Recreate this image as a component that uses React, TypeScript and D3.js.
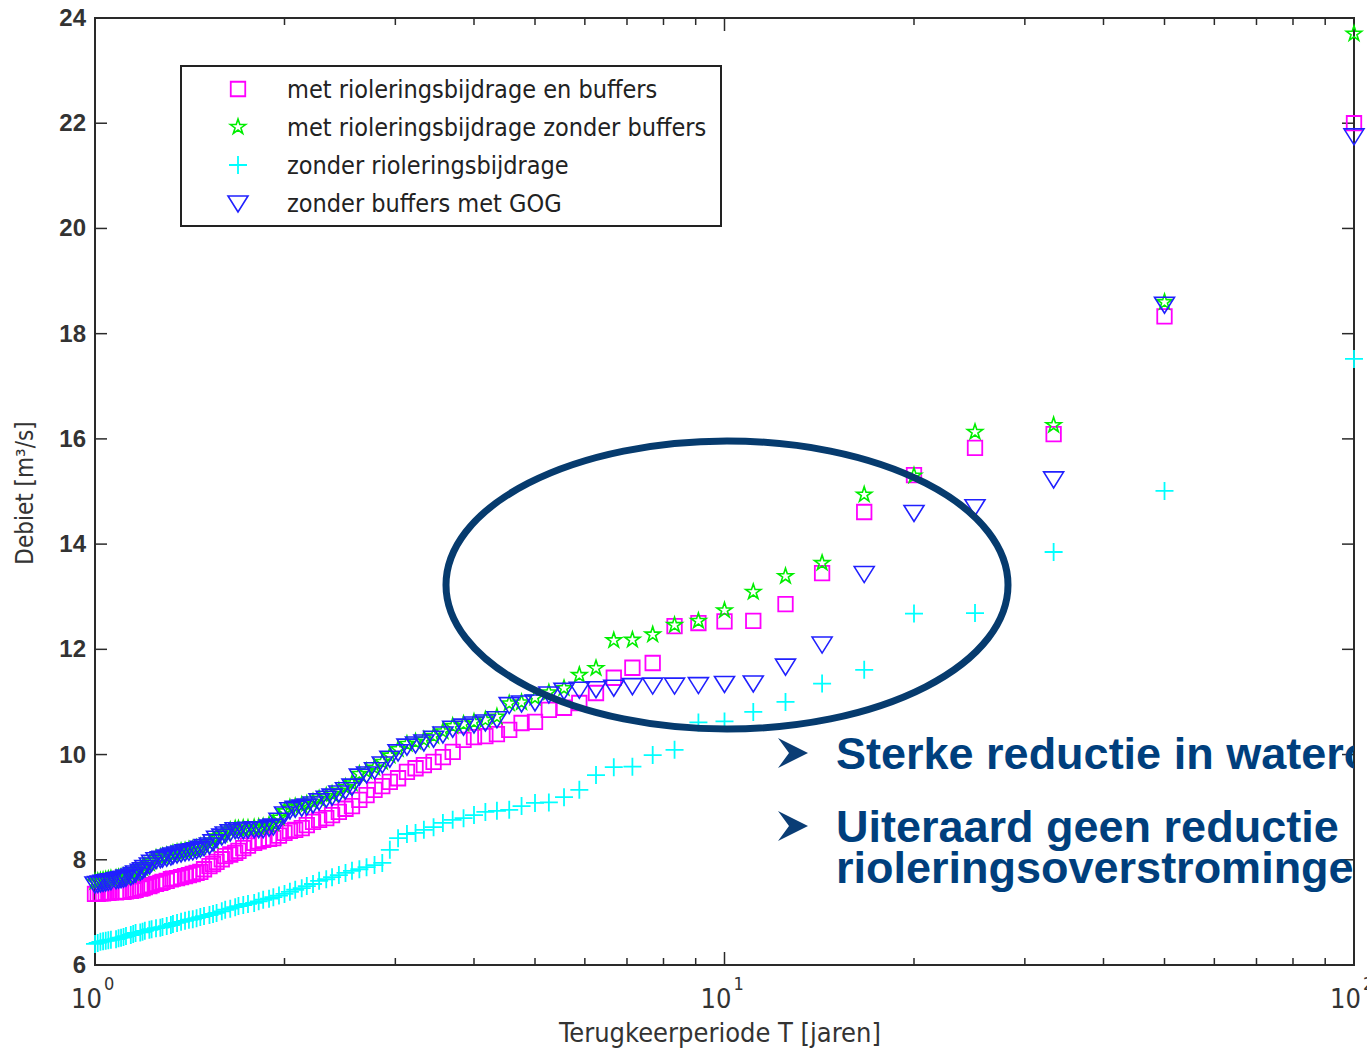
import React from 'react';
import * as d3 from 'd3';

// return periods T = (n)/rank for the 100 ranked events
const returnPeriods = [
  100, 50, 33.33, 25, 20, 16.67, 14.29, 12.5, 11.11, 10,
  9.09, 8.33, 7.69, 7.14, 6.67, 6.25, 5.88, 5.56, 5.26, 5,
  4.76, 4.55, 4.35, 4.17, 4, 3.85, 3.7, 3.57, 3.45, 3.33,
  3.23, 3.13, 3.03, 2.94, 2.86, 2.78, 2.7, 2.63, 2.56, 2.5,
  2.44, 2.38, 2.33, 2.27, 2.22, 2.17, 2.13, 2.08, 2.04, 2,
  1.96, 1.92, 1.89, 1.85, 1.82, 1.79, 1.75, 1.72, 1.69, 1.67,
  1.64, 1.61, 1.59, 1.56, 1.54, 1.52, 1.49, 1.47, 1.45, 1.43,
  1.41, 1.39, 1.37, 1.35, 1.33, 1.32, 1.3, 1.28, 1.27, 1.25,
  1.23, 1.22, 1.2, 1.19, 1.18, 1.16, 1.15, 1.14, 1.12, 1.11,
  1.1, 1.09, 1.08, 1.06, 1.05, 1.04, 1.03, 1.02, 1.01, 1,
];

const metBuffers = [
  22.0, 18.33, 16.09, 15.83, 15.31, 14.61, 13.45, 12.86, 12.54, 12.53,
  12.5, 12.44, 11.74, 11.65, 11.46, 11.17, 10.98, 10.89, 10.85, 10.62,
  10.6, 10.47, 10.39, 10.35, 10.33, 10.28, 10.05, 9.95, 9.86, 9.8,
  9.74, 9.67, 9.55, 9.48, 9.4, 9.33, 9.23, 9.14, 9.02, 8.97,
  8.91, 8.85, 8.79, 8.76, 8.72, 8.66, 8.6, 8.57, 8.55, 8.51,
  8.46, 8.41, 8.4, 8.38, 8.35, 8.32, 8.27, 8.22, 8.17, 8.13,
  8.1, 8.07, 8.01, 7.96, 7.92, 7.88, 7.82, 7.77, 7.75, 7.73,
  7.71, 7.69, 7.67, 7.65, 7.64, 7.63, 7.6, 7.58, 7.56, 7.54,
  7.52, 7.5, 7.48, 7.46, 7.45, 7.43, 7.42, 7.41, 7.4, 7.39,
  7.39, 7.39, 7.38, 7.38, 7.37, 7.37, 7.36, 7.36, 7.35, 7.35,
];

const zonderBuffers = [
  23.7, 18.6, 16.26, 16.13, 15.3, 14.94, 13.64, 13.39, 13.09, 12.74,
  12.54, 12.46, 12.28, 12.18, 12.17, 11.64, 11.51, 11.26, 11.18, 11.08,
  10.99, 10.97, 10.72, 10.66, 10.62, 10.58, 10.54, 10.44, 10.35, 10.28,
  10.24, 10.2, 10.1, 9.98, 9.86, 9.75, 9.68, 9.63, 9.45, 9.38,
  9.31, 9.25, 9.21, 9.16, 9.1, 9.06, 9.04, 9.01, 8.99, 8.92,
  8.8, 8.69, 8.66, 8.63, 8.62, 8.61, 8.6, 8.6, 8.59, 8.59,
  8.56, 8.52, 8.48, 8.44, 8.36, 8.31, 8.27, 8.25, 8.22, 8.2,
  8.19, 8.17, 8.16, 8.14, 8.12, 8.1, 8.08, 8.06, 8.05, 8.03,
  7.98, 7.93, 7.88, 7.84, 7.81, 7.78, 7.75, 7.72, 7.7, 7.68,
  7.67, 7.66, 7.65, 7.64, 7.63, 7.62, 7.61, 7.6, 7.59, 7.58,
];

const zonderRiolering = [
  17.52, 15.01, 13.85, 12.69, 12.68, 11.61, 11.35, 11.0, 10.81, 10.63,
  10.61, 10.09, 9.99, 9.77, 9.76, 9.61, 9.33, 9.19, 9.09, 9.08,
  9.02, 8.95, 8.93, 8.91, 8.85, 8.79, 8.76, 8.7, 8.62, 8.57,
  8.51, 8.49, 8.41, 8.19, 7.94, 7.9, 7.86, 7.82, 7.79, 7.75,
  7.71, 7.67, 7.63, 7.6, 7.54, 7.5, 7.46, 7.43, 7.39, 7.35,
  7.32, 7.29, 7.26, 7.24, 7.21, 7.18, 7.16, 7.14, 7.12, 7.1,
  7.07, 7.05, 7.02, 6.99, 6.97, 6.95, 6.93, 6.91, 6.89, 6.87,
  6.86, 6.84, 6.82, 6.8, 6.78, 6.76, 6.74, 6.72, 6.71, 6.7,
  6.68, 6.67, 6.65, 6.63, 6.62, 6.61, 6.59, 6.57, 6.55, 6.53,
  6.52, 6.51, 6.49, 6.48, 6.47, 6.46, 6.45, 6.44, 6.42, 6.4,
];

const gogValues = [
  21.76, 18.56, 15.24, 14.71, 14.6, 13.44, 12.1, 11.68, 11.36, 11.35,
  11.33, 11.32, 11.32, 11.31, 11.28, 11.25, 11.24, 11.22, 11.15, 11.0,
  10.98, 10.95, 10.68, 10.62, 10.58, 10.54, 10.5, 10.39, 10.31, 10.24,
  10.2, 10.16, 10.05, 9.93, 9.82, 9.71, 9.63, 9.59, 9.4, 9.33,
  9.27, 9.21, 9.17, 9.12, 9.06, 9.02, 9.0, 8.98, 8.95, 8.87,
  8.75, 8.64, 8.62, 8.59, 8.59, 8.59, 8.58, 8.57, 8.57, 8.57,
  8.53, 8.49, 8.45, 8.41, 8.34, 8.28, 8.25, 8.22, 8.19, 8.17,
  8.16, 8.15, 8.13, 8.11, 8.09, 8.07, 8.05, 8.03, 8.02, 8.0,
  7.95, 7.9, 7.85, 7.81, 7.78, 7.75, 7.72, 7.69, 7.67, 7.65,
  7.64, 7.63, 7.62, 7.6, 7.59, 7.58, 7.57, 7.56, 7.55, 7.54,
];

const legendLabels = [
  'met rioleringsbijdrage en buffers',
  'met rioleringsbijdrage zonder buffers',
  'zonder rioleringsbijdrage',
  'zonder buffers met GOG',
];

const yTicks = [6, 8, 10, 12, 14, 16, 18, 20, 22, 24];
const xMajor = [1, 10, 100];
const xMinor = [2, 3, 4, 5, 6, 7, 8, 9, 20, 30, 40, 50, 60, 70, 80, 90];

// slide text next to the chart, cut off at the right edge like the source slide
const bullets = [
  ['Sterke reductie in wateroverlast'],
  ['Uiteraard geen reductie in', 'rioleringsoverstromingen'],
];

const W = 1367;
const H = 1048;
const margin = { left: 95, right: 13, top: 18, bottom: 83 };

const narrow = "'Liberation Sans Narrow', 'Arial Narrow', 'DejaVu Sans Condensed', sans-serif";
const arial = "'Liberation Sans', Arial, sans-serif";

const squarePath = d3.symbol().type(d3.symbolSquare).size(210)();
const starPath = d3.symbol().type(d3.symbolStar).size(72)();
const plusPath = 'M-9,0H9M0,-9V9';
const triPath = 'M-10,-7L10,-7L0,9Z';

const series = [
  { values: metBuffers, d: squarePath, color: '#ff00ff', width: 1.8 },
  { values: zonderBuffers, d: starPath, color: '#00ee00', width: 1.6 },
  { values: zonderRiolering, d: plusPath, color: '#00ffff', width: 1.8 },
  { values: gogValues, d: triPath, color: '#2020ff', width: 1.6 },
];

export default function App() {
  const x = d3.scaleLog().domain([1, 100]).range([margin.left, W - margin.right]);
  const y = d3.scaleLinear().domain([6, 24]).range([H - margin.bottom, margin.top]);
  const [x0, x1] = x.range();
  const [yb, yt] = y.range();
  const axisColor = '#2a2a2a';

  return (
    <div style={{ position: 'absolute', left: 0, top: 0 }}>
      <svg width={W} height={H} style={{ display: 'block', background: '#fff' }}>
        <defs>
          <clipPath id="slideClip">
            <rect x={0} y={0} width={x1} height={H} />
          </clipPath>
        </defs>

        {/* axis box */}
        <rect x={x0} y={yt} width={x1 - x0} height={yb - yt} fill="none" stroke={axisColor} strokeWidth={2} />

        {/* y ticks */}
        {yTicks.map(t => (
          <g key={'y' + t}>
            <line x1={x0} x2={x0 + 12} y1={y(t)} y2={y(t)} stroke={axisColor} strokeWidth={1.5} />
            <line x1={x1} x2={x1 - 12} y1={y(t)} y2={y(t)} stroke={axisColor} strokeWidth={1.5} />
            <text x={86} y={y(t) + 8} textAnchor="end" fontFamily={arial} fontWeight="bold"
              fontSize={24} fill="#333">{t}</text>
          </g>
        ))}

        {/* x ticks */}
        {xMinor.map(t => (
          <g key={'xm' + t}>
            <line x1={x(t)} x2={x(t)} y1={yb} y2={yb - 7} stroke={axisColor} strokeWidth={1.5} />
            <line x1={x(t)} x2={x(t)} y1={yt} y2={yt + 7} stroke={axisColor} strokeWidth={1.5} />
          </g>
        ))}
        {xMajor.map((t, i) => (
          <g key={'xM' + t}>
            <line x1={x(t)} x2={x(t)} y1={yb} y2={yb - 13} stroke={axisColor} strokeWidth={1.5} />
            <line x1={x(t)} x2={x(t)} y1={yt} y2={yt + 13} stroke={axisColor} strokeWidth={1.5} />
            <text x={x(t) + 7} y={1008} textAnchor="end" fontFamily={narrow} fontSize={27} fill="#333">10</text>
            <text x={x(t) + 9} y={990} fontFamily={narrow} fontSize={18} fill="#333">{i}</text>
          </g>
        ))}

        <text x={720} y={1042} textAnchor="middle" fontFamily={narrow} fontSize={27} fill="#333">
          Terugkeerperiode T [jaren]
        </text>
        <text transform="translate(33,493) rotate(-90)" textAnchor="middle" fontFamily={narrow}
          fontSize={24} fill="#333">
          Debiet [m³/s]
        </text>

        {/* data */}
        {series.map((s, si) => (
          <g key={'s' + si} fill="none" stroke={s.color} strokeWidth={s.width}>
            {s.values.map((v, i) => (
              <path key={i} d={s.d} transform={`translate(${x(returnPeriods[i])},${y(v)})`} />
            ))}
          </g>
        ))}

        {/* legend */}
        <rect x={181} y={66} width={540} height={160} fill="#fff" stroke="#222" strokeWidth={2} />
        {series.map((s, i) => (
          <g key={'l' + i}>
            <path d={s.d} transform={`translate(238,${89 + i * 38})`} fill="none" stroke={s.color}
              strokeWidth={s.width} />
            <text x={287} y={89 + i * 38 + 9} fontFamily={narrow} fontSize={25} fill="#222">
              {legendLabels[i]}
            </text>
          </g>
        ))}

        {/* highlight ellipse */}
        <ellipse cx={727} cy={585} rx={281} ry={144} fill="none" stroke="#063b6e" strokeWidth={7} />

        {/* slide bullets */}
        <g clipPath="url(#slideClip)" fill="#003f7d" fontFamily={arial} fontWeight="bold" fontSize={45}>
          {bullets.map((lines, bi) => {
            const base = bi === 0 ? 769 : 842;
            return (
              <g key={'b' + bi}>
                <path d={`M778,${base - 31}L808,${base - 16}L778,${base - 1}L789,${base - 16}Z`}
                  fill="#0a3d75" />
                {lines.map((ln, li) => (
                  <text key={li} x={836} y={base + li * 41}>{ln}</text>
                ))}
              </g>
            );
          })}
        </g>
      </svg>
    </div>
  );
}
